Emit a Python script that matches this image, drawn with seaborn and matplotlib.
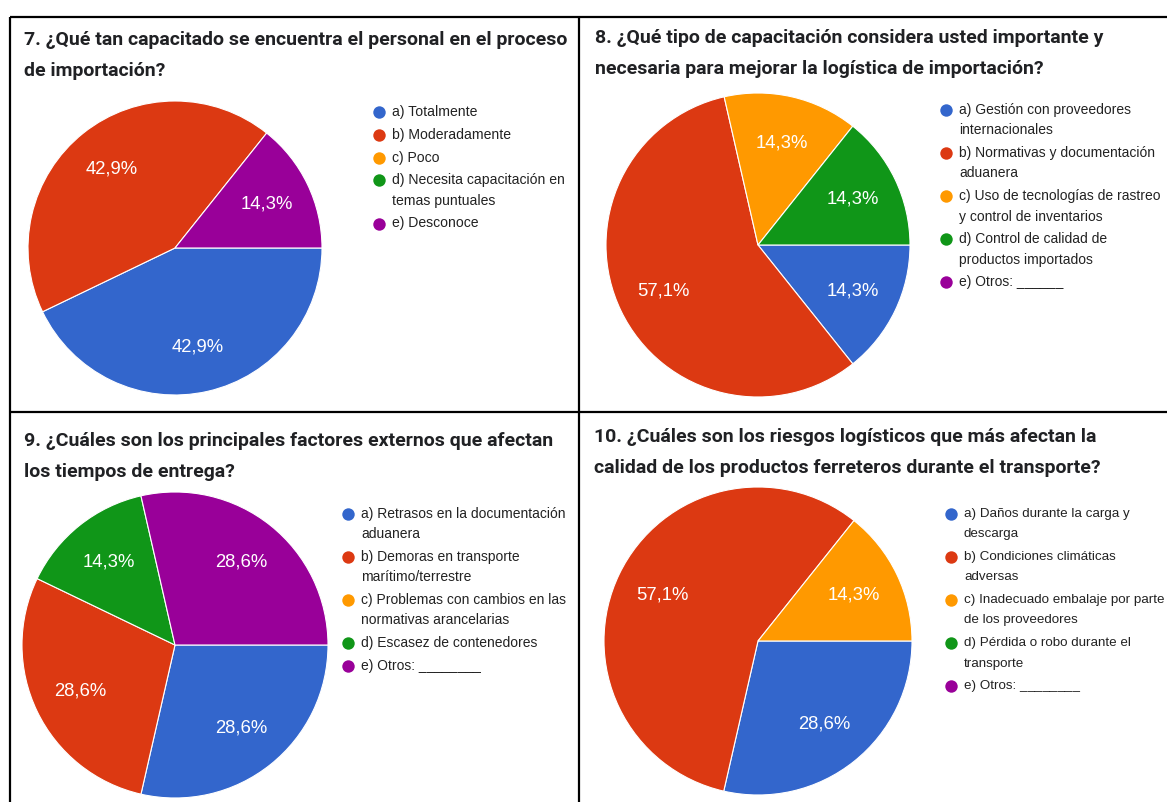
import matplotlib
matplotlib.use("Agg")
import matplotlib.pyplot as plt
import seaborn as sns

# survey answers (7 respondents per question)
q7_title = ["7. ¿Qué tan capacitado se encuentra el personal en el proceso",
            "de importación?"]
q7_labels = [["a) Totalmente"], ["b) Moderadamente"], ["c) Poco"],
             ["d) Necesita capacitación en", "temas puntuales"], ["e) Desconoce"]]
q7_counts = [3, 3, 0, 0, 1]

q8_title = ["8. ¿Qué tipo de capacitación considera usted importante y",
            "necesaria para mejorar la logística de importación?"]
q8_labels = [["a) Gestión con proveedores", "internacionales"],
             ["b) Normativas y documentación", "aduanera"],
             ["c) Uso de tecnologías de rastreo", "y control de inventarios"],
             ["d) Control de calidad de", "productos importados"],
             ["e) Otros: ______"]]
q8_counts = [1, 4, 1, 1, 0]

q9_title = ["9. ¿Cuáles son los principales factores externos que afectan",
            "los tiempos de entrega?"]
q9_labels = [["a) Retrasos en la documentación", "aduanera"],
             ["b) Demoras en transporte", "marítimo/terrestre"],
             ["c) Problemas con cambios en las", "normativas arancelarias"],
             ["d) Escasez de contenedores"],
             ["e) Otros: ________"]]
q9_counts = [2, 2, 0, 1, 2]

q10_title = ["10. ¿Cuáles son los riesgos logísticos que más afectan la",
             "calidad de los productos ferreteros durante el transporte?"]
q10_labels = [["a) Daños durante la carga y", "descarga"],
              ["b) Condiciones climáticas", "adversas"],
              ["c) Inadecuado embalaje por parte", "de los proveedores"],
              ["d) Pérdida o robo durante el", "transporte"],
              ["e) Otros: ________"]]
q10_counts = [2, 4, 1, 0, 0]

W, H = 1167, 802

sns.set_theme(style="white")
plt.rcParams['font.family'] = ['Liberation Sans', 'DejaVu Sans']
colors = sns.color_palette(["#3366cc", "#dc3912", "#ff9900", "#109618", "#990099"])

fig = plt.figure(figsize=(W / 100, H / 100), dpi=100)
fig.patch.set_facecolor("white")

# overlay in pixel coordinates for the table, titles and legends
ov = fig.add_axes([0, 0, 1, 1])
ov.set_xlim(0, W)
ov.set_ylim(H, 0)
ov.axis("off")

# table borders
lw = 1.6
ov.plot([10, W], [17, 17], color="black", lw=lw, solid_capstyle="butt")
ov.plot([10, W], [412, 412], color="black", lw=lw, solid_capstyle="butt")
ov.plot([10, 10], [17, H], color="black", lw=lw, solid_capstyle="butt")
ov.plot([579, 579], [17, H], color="black", lw=lw, solid_capstyle="butt")


def fmt_pct(p):
    if p < 0.5:
        return ""
    return f"{p:.1f}%".replace(".", ",")


def draw_panel(title, labels, counts, tx, ty, cx, cy, r, lx, ly, lfs=10):
    # title, two lines
    for i, line in enumerate(title):
        ov.text(tx, ty + i * 31, line, fontsize=14.0, fontweight="bold",
                family=["Roboto", "DejaVu Sans"], color="#202124", va="baseline")

    # pie
    ax = fig.add_axes([(cx - r) / W, 1 - (cy + r) / H, 2 * r / W, 2 * r / H])
    vals = [c for c in counts if c > 0]
    cols = [colors[i] for i, c in enumerate(counts) if c > 0]
    wedges, texts, autotexts = ax.pie(
        vals, colors=cols, startangle=0, counterclock=False,
        autopct=fmt_pct, pctdistance=0.69,
        wedgeprops=dict(edgecolor="white", linewidth=0.8),
        textprops=dict(color="white", fontsize=13.3))
    ax.set_xlim(-1, 1)
    ax.set_ylim(-1, 1)
    ax.set_aspect("equal")
    ax.axis("off")

    # legend
    y = ly
    for i, item in enumerate(labels):
        ov.scatter([lx], [y], s=80, color=colors[i], zorder=3, linewidths=0)
        for j, line in enumerate(item):
            ov.text(lx + 13, y + j * 20.3, line, fontsize=lfs, color="#222222",
                    va="center", ha="left")
        y += (len(item) - 1) * 20.3 + 22.8


draw_panel(q7_title, q7_labels, q7_counts, 24, 45, 175, 248, 147, 379, 112, 10.1)
draw_panel(q8_title, q8_labels, q8_counts, 595, 43, 758, 245, 152, 946, 110, 10)
draw_panel(q9_title, q9_labels, q9_counts, 24, 446, 175, 645, 153, 348, 514, 10)
draw_panel(q10_title, q10_labels, q10_counts, 594, 442, 758, 641, 154, 951, 514, 9.6)

fig.savefig("out.png", dpi=100)
